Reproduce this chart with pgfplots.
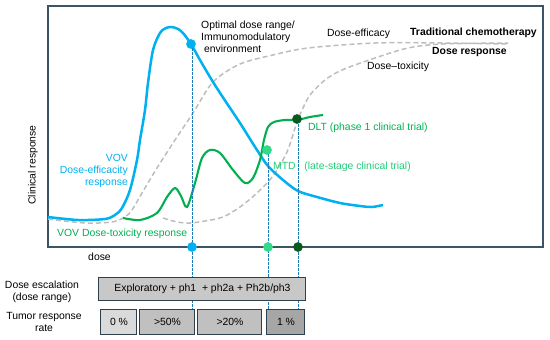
\documentclass[border=0pt]{standalone}
\usepackage{pgfplots}
\pgfplotsset{compat=1.18}
\usepackage{fontspec}
\setmainfont{Liberation Sans}
\definecolor{vblue}{HTML}{00B0F0}
\definecolor{vgreen}{HTML}{00B050}
\definecolor{lgreen}{HTML}{33DB88}
\definecolor{ltext}{HTML}{22CC77}
\definecolor{dgreen}{HTML}{0A5A1E}
\definecolor{dline}{HTML}{1F7AB4}
\definecolor{framec}{HTML}{3B5566}
\definecolor{gdash}{HTML}{BDBDBD}
\definecolor{boxb}{HTML}{2F3F4C}
\definecolor{fillA}{HTML}{C8C8C8}
\definecolor{fillB}{HTML}{DADADA}
\definecolor{fillC}{HTML}{C0C0C0}
\definecolor{fillD}{HTML}{A6A6A6}
\begin{document}
\begin{tikzpicture}
\begin{axis}[scale only axis, width=495pt, height=241pt,
  xmin=48, xmax=543, ymin=6, ymax=247, y dir=reverse,
  axis line style={framec, line width=1.2pt},
  xtick=\empty, ytick=\empty, clip=false,
  font=\fontsize{10.4}{12}\selectfont]
\path (axis cs:0,0) rectangle (axis cs:550,340);
% grey dashed: dose-efficacy
\addplot[gdash, dash pattern=on 5pt off 3pt, line width=1.5pt, smooth] coordinates {
(48,219) (85,223) (112,222) (125,217) (132,210) (142,193) (157,168) (175,140) (193,113) (213,82) (240,64) (273,55) (308,48) (375,43) (442,43) (508,44)};
% grey dashed: dose-toxicity
\addplot[gdash, dash pattern=on 5pt off 3pt, line width=1.5pt, smooth] coordinates {
(163,218) (177,222) (190,223) (205,221) (223,217) (240,207) (257,193) (273,176) (287,152) (297,122) (303,108) (310,95) (325,80) (342,70) (375,58) (408,48) (442,44) (508,43)};
% blue VOV efficacy
\addplot[vblue, line width=2.5pt, smooth] coordinates {
(48,217) (78,220) (105,219) (115,215) (122,208) (130,190) (137,160) (140,140) (145,110) (148,83) (153,50) (160,33) (166,28) (172,27) (178,29) (183,33) (191,44) (200,60) (213,82) (226,102) (240,123) (257,150) (268,166) (283,180) (298,191) (317,197) (340,203) (360,206) (372,207) (383,205)};
% green VOV toxicity
\addplot[vgreen, line width=2.1pt, smooth] coordinates {
(123,218) (140,220) (157,213) (167,197) (175,188) (181,196) (187,207) (195,183) (202,158) (210,150) (220,153) (233,170) (245,183) (253,178) (260,160) (264,140) (268,127) (274,122) (285,120) (297,120) (310,117) (323,115)};
% vertical dashed lines
\addplot[dline, dash pattern=on 2.5pt off 1.5pt, line width=0.9pt] coordinates {(192,44) (192,322)};
\addplot[dline, dash pattern=on 2.5pt off 1.5pt, line width=0.9pt] coordinates {(268,150) (268,322)};
\addplot[dline, dash pattern=on 2.5pt off 1.5pt, line width=0.9pt] coordinates {(298,120) (298,322)};
% dots
\addplot[only marks, mark=*, mark size=4.6pt, vblue] coordinates {(191,44) (192,247)};
\addplot[only marks, mark=*, mark size=4.6pt, lgreen] coordinates {(267,150) (268,247)};
\addplot[only marks, mark=*, mark size=4.6pt, dgreen] coordinates {(297,119) (298,247)};
% boxes
\draw[boxb, line width=1pt, fill=fillA] (axis cs:99,277) rectangle (axis cs:306,300);
\draw[boxb, line width=1pt, fill=fillB] (axis cs:101,309) rectangle (axis cs:137,334);
\draw[boxb, line width=1pt, fill=fillC] (axis cs:140,309) rectangle (axis cs:195,334);
\draw[boxb, line width=1pt, fill=fillC] (axis cs:198,309) rectangle (axis cs:262,334);
\draw[boxb, line width=1pt, fill=fillD] (axis cs:267,309) rectangle (axis cs:305,334);
\node at (axis cs:202.5,288.5) {Exploratory + ph1\ \ + ph2a + Ph2b/ph3};
\node at (axis cs:119,321.5) {0 \%};
\node at (axis cs:167.5,321.5) {>50\%};
\node at (axis cs:230,321.5) {>20\%};
\node at (axis cs:286,321.5) {1 \%};
% texts
\node[anchor=west, align=left, inner sep=0pt] at (axis cs:201,37) {Optimal dose range/\\Immunomodulatory\\\ environment};
\node[anchor=west, inner sep=0pt] at (axis cs:327,34) {Dose-efficacy};
\node[anchor=west, inner sep=0pt] at (axis cs:410,33) {\bfseries Traditional chemotherapy};
\node[anchor=west, inner sep=0pt] at (axis cs:432,52) {\bfseries Dose response};
\node[anchor=west, inner sep=0pt] at (axis cs:367,67) {Dose--toxicity};
\node[anchor=west, inner sep=0pt, text=vgreen] at (axis cs:308,128) {DLT (phase 1 clinical trial)};
\node[anchor=west, inner sep=0pt, text=ltext] at (axis cs:273,167) {MTD\ \ \ (late-stage clinical trial)};
\node[anchor=east, align=right, inner sep=0pt, text=vblue] at (axis cs:128,171) {VOV\\Dose-efficacity\\response};
\node[anchor=west, inner sep=0pt, text=vgreen] at (axis cs:57,234) {VOV Dose-toxicity response};
\node[rotate=90, inner sep=0pt] at (axis cs:33,165) {Clinical response};
\node[inner sep=0pt] at (axis cs:99.5,257) {dose};
\node[align=center, inner sep=0pt] at (axis cs:42,292) {Dose escalation\\(dose range)};
\node[align=center, inner sep=0pt] at (axis cs:44,322) {Tumor response\\rate};
\end{axis}
\end{tikzpicture}
\end{document}
